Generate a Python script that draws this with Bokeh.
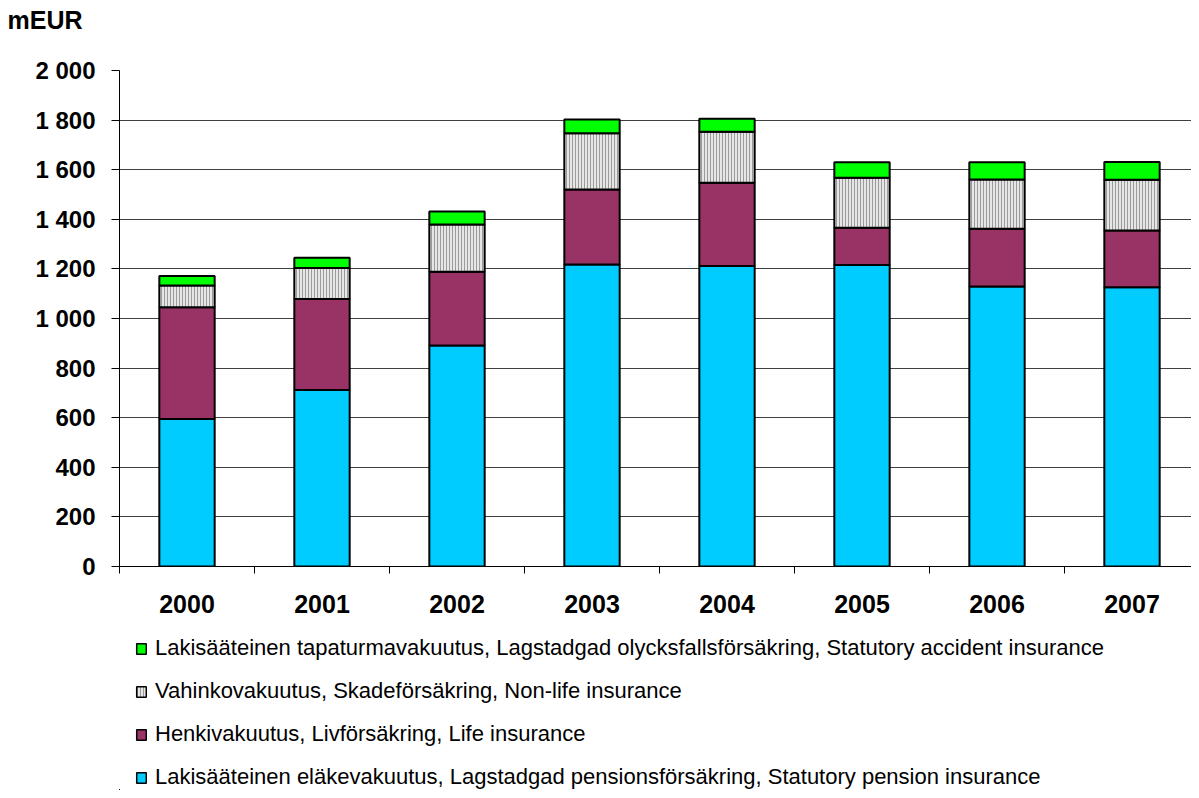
import numpy as np
from bokeh.plotting import figure
from bokeh.layouts import column
from bokeh.models import Range1d, FixedTicker, Legend, LegendItem
from bokeh.embed import file_html
from bokeh.resources import INLINE

years = ["2000", "2001", "2002", "2003", "2004", "2005", "2006", "2007"]
pension = [595, 712, 891, 1218, 1212, 1216, 1129, 1126]
life = [450, 367, 298, 302, 335, 150, 233, 229]
nonlife = [88, 125, 190, 227, 206, 202, 198, 204]
accident = [38, 41, 52, 55, 52, 62, 70, 72]

labels = [
    "Lakisääteinen tapaturmavakuutus, Lagstadgad olycksfallsförsäkring, Statutory accident insurance",
    "Vahinkovakuutus, Skadeförsäkring, Non-life insurance",
    "Henkivakuutus, Livförsäkring, Life insurance",
    "Lakisääteinen eläkevakuutus, Lagstadgad pensionsförsäkring, Statutory pension insurance",
]
yticks = list(range(0, 2001, 200))
unit_title = "mEUR"

FONT = "Liberation Sans"
W = 1191
H0, H1, H2 = 48, 578, 164
LEFT, TOP, BOTTOM = 119, 22, 60
frame_w = W - LEFT
cat_px = 135.0

styles = {
    "pension": dict(fill_color="#00CCFF"),
    "life": dict(fill_color="#993366"),
    "nonlife": dict(fill_color="#e6e6e6", hatch_pattern="vertical_line",
                    hatch_color="#9a9a9a", hatch_scale=3, hatch_weight=1),
    "accident": dict(fill_color="#00FF00"),
}

x = np.arange(len(years))
b0 = np.zeros(len(years))
t1 = b0 + np.array(pension)
t2 = t1 + np.array(life)
t3 = t2 + np.array(nonlife)
t4 = t3 + np.array(accident)
stacks = {"pension": (b0, t1), "life": (t1, t2), "nonlife": (t2, t3), "accident": (t3, t4)}


def blank(height, **kw):
    f = figure(width=W, height=height, output_backend="svg", toolbar_location=None,
               x_range=Range1d(100, 101), y_range=Range1d(5000, 5001),
               min_border_left=LEFT, min_border_right=0, **kw)
    f.axis.visible = False
    f.grid.visible = False
    f.outline_line_color = None
    f.border_fill_color = "white"
    return f


# unit title on top
p0 = blank(H0, min_border_top=0, min_border_bottom=0)
p0.title.text = unit_title
p0.title.text_font = FONT
p0.title.text_font_style = "bold"
p0.title.text_font_size = "25px"
p0.title.text_color = "black"
p0.title.align = "left"
p0.title.vertical_align = "top"
p0.title.offset = -(LEFT - 7)
p0.title.standoff = 10

# main chart
p = figure(width=W, height=H1, output_backend="svg", toolbar_location=None,
           x_range=Range1d(-0.5, -0.5 + frame_w / cat_px), y_range=Range1d(0, 2000),
           min_border_left=LEFT, min_border_right=0, min_border_top=TOP,
           min_border_bottom=BOTTOM)
p.outline_line_color = None
p.background_fill_color = "white"
p.border_fill_color = "white"

bw = 0.41
for key in ["pension", "life", "nonlife", "accident"]:
    bot, top = stacks[key]
    p.vbar(x=x, bottom=bot, top=top, width=bw, line_color="black", line_width=2, **styles[key])

p.xgrid.grid_line_color = None
p.ygrid.ticker = FixedTicker(ticks=yticks)
p.ygrid.grid_line_color = "#404040"
p.ygrid.grid_line_width = 1
p.ygrid.level = "underlay"

ya = p.yaxis[0]
ya.ticker = FixedTicker(ticks=yticks)
ya.major_label_overrides = {v: f"{v:,}".replace(",", " ") for v in yticks}
ya.major_label_text_font = FONT
ya.major_label_text_font_style = "bold"
ya.major_label_text_font_size = "24px"
ya.major_label_text_color = "black"
ya.major_tick_out = 8
ya.major_tick_in = 0
ya.minor_tick_line_color = None
ya.major_label_standoff = 16
ya.axis_line_color = "black"
ya.major_tick_line_color = "black"

xa = p.xaxis[0]
xa.ticker = FixedTicker(ticks=list(x), minor_ticks=[i - 0.5 for i in range(len(years) + 1)])
xa.major_label_overrides = {int(i): years[i] for i in x}
xa.major_label_text_font = FONT
xa.major_label_text_font_style = "bold"
xa.major_label_text_font_size = "25px"
xa.major_label_text_color = "black"
xa.major_tick_line_color = None
xa.major_tick_out = 0
xa.major_tick_in = 0
xa.minor_tick_out = 7
xa.minor_tick_in = 0
xa.minor_tick_line_color = "black"
xa.major_label_standoff = 21
xa.axis_line_color = "black"

# legend figure: its renderers lie outside its ranges, so only legend glyphs show
p2 = blank(H2, min_border_top=0, min_border_bottom=0)
order = ["accident", "nonlife", "life", "pension"]
items = []
for key, lab in zip(order, labels):
    bot, top = stacks[key]
    r = p2.vbar(x=x, bottom=bot, top=top, width=bw, line_color="black", line_width=1.5,
                **styles[key])
    items.append(LegendItem(label=lab, renderers=[r]))

legend = Legend(items=items, orientation="vertical", location=(16, 0))
legend.label_text_font = FONT
legend.label_text_font_size = "22px"
legend.label_text_color = "black"
legend.glyph_width = 12
legend.glyph_height = 13
legend.label_height = 26
legend.label_standoff = 8
legend.spacing = 17
legend.padding = 0
legend.margin = 0
legend.border_line_color = None
legend.background_fill_color = None
p2.add_layout(legend)

open("out.html", "w").write(file_html(column(p0, p, p2), INLINE))
